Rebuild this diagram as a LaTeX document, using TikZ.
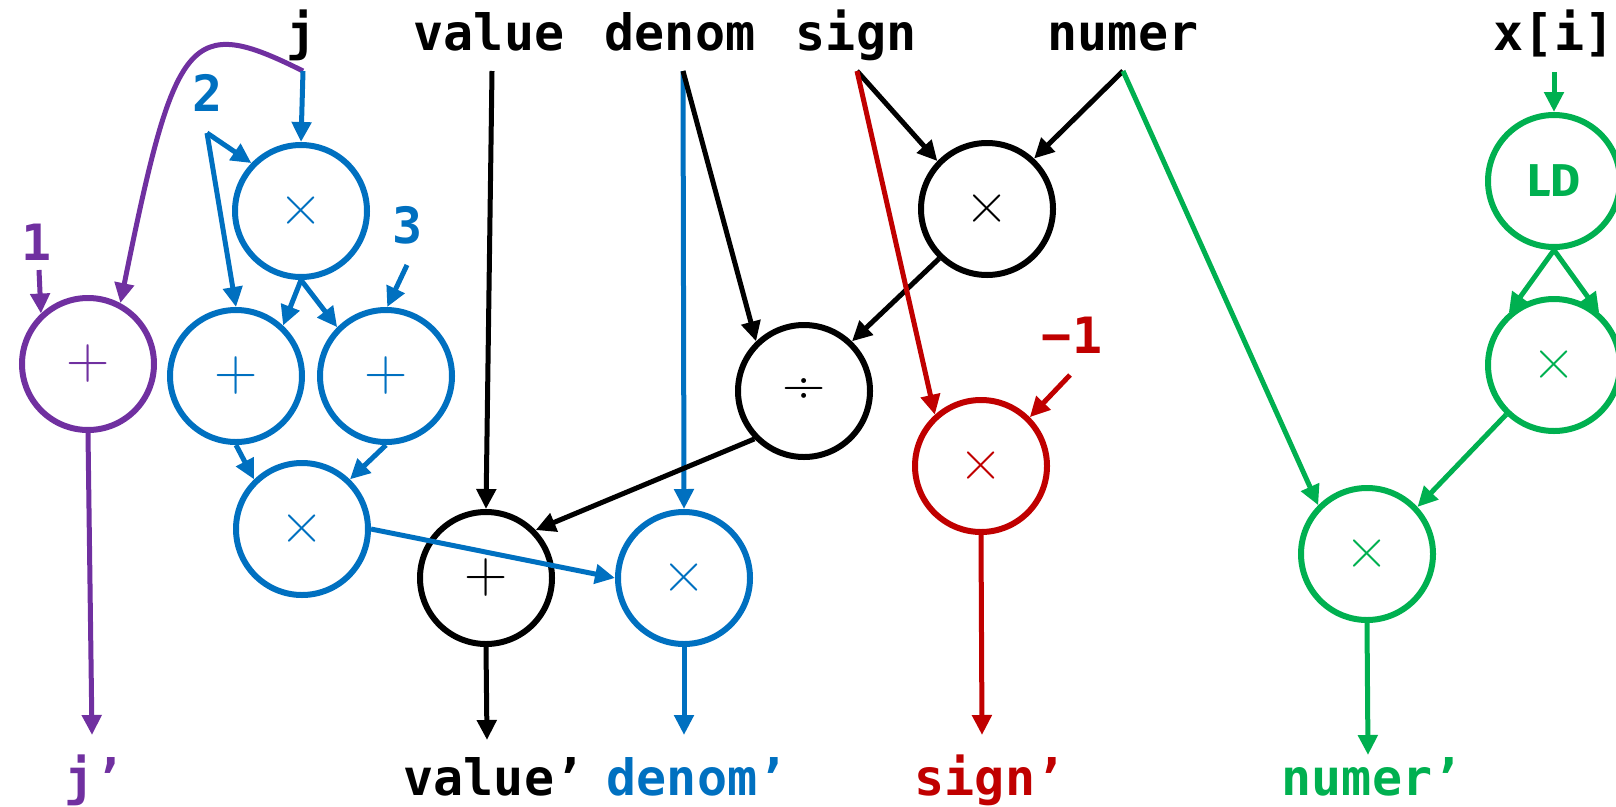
\documentclass[tikz,border=0pt]{standalone}
\usepackage{fontspec}
\usetikzlibrary{arrows.meta}
\newfontfamily\dmono{DejaVu Sans Mono}
\newfontfamily\ldfam{Fira Sans}
\definecolor{cpur}{HTML}{7030A0}
\definecolor{cblu}{HTML}{0070C0}
\definecolor{cred}{HTML}{C00000}
\definecolor{cgrn}{HTML}{00B050}
\newcommand{\codefont}{\dmono\bfseries\fontsize{50}{56}\selectfont}
\newcommand{\symfont}{\rmfamily\fontsize{60}{60}\selectfont}
\newcommand{\ldfont}{\ldfam\bfseries\fontsize{46}{46}\selectfont}
\tikzset{
  op/.style={circle, draw, line width=6pt, minimum size=132pt, inner sep=0pt, font=\symfont},
  lab/.style={font=\codefont, inner sep=0pt, anchor=base},
  num/.style={font=\codefont, inner sep=0pt},
  conn/.style={line width=5pt, -{Triangle[length=20pt,width=19pt]}}
}
\begin{document}
\begin{tikzpicture}[x=1pt,y=-1pt]
\useasboundingbox (0,0) rectangle (1616,806);
% top labels
\node[lab] (lj) at (302,50) {j};
\node[lab] (lval) at (489,50) {value};
\node[lab] (lden) at (680,50) {denom};
\node[lab] (lsgn) at (856,50) {sign};
\node[lab] (lnum) at (1123,50) {numer};
\node[lab] (lxi) at (1554,50) {x[i]};
% bottom labels
\node[lab, text=cpur] (bj) at (95,795) {j’};
\node[lab] (bval) at (494,795) {value’};
\node[lab, text=cblu] (bden) at (697,795) {denom’};
\node[lab, text=cred] (bsgn) at (990,795) {sign’};
\node[lab, text=cgrn] (bnum) at (1372,795) {numer’};
% constants
\node[num, text=cpur] (n1) at (37,242) {1};
\node[num, text=cblu] (n2) at (208,93) {2};
\node[num, text=cblu] (n3) at (408,225) {3};
\node[num, text=cred] (nm1) at (1072,335) {−1};
% operator nodes
\node[op, draw=cpur, text=cpur] (Pp) at (88,364) {+};
\node[op, draw=cblu, text=cblu] (Bt) at (301,211) {×};
\node[op, draw=cblu, text=cblu] (BpL) at (236,376) {+};
\node[op, draw=cblu, text=cblu] (BpR) at (386,376) {+};
\node[op, draw=cblu, text=cblu] (Bl) at (302,529) {×};
\node[op, draw=black] (Kp) at (486,578) {+};
\node[op, draw=cblu, text=cblu] (Bd) at (684,578) {×};
\node[op, draw=black] (Kd) at (804,391) {÷};
\node[op, draw=black] (Kx) at (987,209) {×};
\node[op, draw=cred, text=cred] (Rx) at (981,466) {×};
\node[op, draw=cgrn, text=cgrn, font=\ldfont] (LD) at (1554,181) {LD};
\node[op, draw=cgrn, text=cgrn] (GxR) at (1554,365) {×};
\node[op, draw=cgrn, text=cgrn] (Gl) at (1367,554) {×};
% connector ends
\coordinate (jS) at (303,71);
\coordinate (valS) at (492,71);
\coordinate (denS) at (683,71);
\coordinate (sgnS) at (857,71);
\coordinate (numS) at (1123,71);
\coordinate (xiS) at (1554,72);
\coordinate (oneS) at (39,270);
\coordinate (twoS) at (207,133);
\coordinate (thrS) at (407,265);
\coordinate (m1S) at (1070,375);
\coordinate (jE) at (92,735);
\coordinate (valE) at (487,740);
\coordinate (denE) at (684,735);
\coordinate (sgnE) at (982,735);
\coordinate (numE) at (1368,755);
% purple
\draw[conn, cpur] (jS) .. controls (189,14) and (175,33) .. (Pp.62);
\draw[conn, cpur] (oneS) -- (Pp.133);
\draw[conn, cpur] (Pp.south) -- (jE);
% blue
\draw[conn, cblu] (jS) -- (Bt.north);
\draw[conn, cblu] (twoS) -- (Bt.136);
\draw[conn, cblu] (twoS) -- (BpL.north);
\draw[conn, cblu] (thrS) -- (BpR.89);
\draw[conn, cblu] (Bt.south) -- (BpL.47);
\draw[conn, cblu] (Bt.south) -- (BpR.135);
\draw[conn, cblu] (BpL.south) -- (Bl.134);
\draw[conn, cblu] (BpR.south) -- (Bl.46);
\draw[conn, cblu] (denS) -- (Bd.north);
\draw[conn, cblu] (Bd.south) -- (denE);
% black
\draw[conn] (valS) -- (Kp.north);
\draw[conn] (denS) -- (Kd.134);
\draw[conn] (sgnS) -- (Kx.136);
\draw[conn] (numS) -- (Kx.47);
\draw[conn] (Kx.226) -- (Kd.46);
\draw[conn] (Kd.224) -- (Kp.44);
\draw[conn] (Kp.south) -- (valE);
\draw[conn, cblu] (Bl.east) -- (Bd.west);
% red
\draw[conn, cred] (sgnS) -- (Rx.132);
\draw[conn, cred] (m1S) -- (Rx.45);
\draw[conn, cred] (Rx.south) -- (sgnE);
% green
\draw[conn, cgrn] (xiS) -- (LD.north);
\draw[conn, cgrn] (LD.south) -- (GxR.131);
\draw[conn, cgrn] (LD.south) -- (GxR.49);
\draw[conn, cgrn] (numS) -- (Gl.135);
\draw[conn, cgrn] (GxR.226) -- (Gl.43);
\draw[conn, cgrn] (Gl.south) -- (numE);
\end{tikzpicture}
\end{document}
